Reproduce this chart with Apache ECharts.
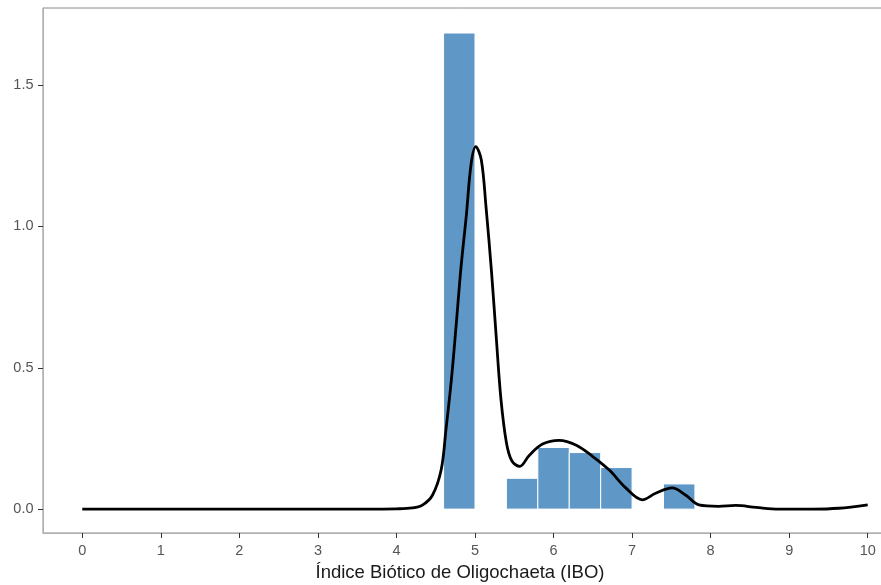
<!DOCTYPE html>
<html>
<head>
<meta charset="utf-8">
<script src="https://cdn.jsdelivr.net/npm/echarts@6/dist/echarts.min.js"></script>
<style>
  html, body { margin: 0; padding: 0; background: #fff; }
  #chart { width: 881px; height: 585px; }
</style>
</head>
<body>
<div id="chart"></div>
<script>
// histogram bins (width 0.4) and density heights
const binStart = [4.6, 5.0, 5.4, 5.8, 6.2, 6.6, 7.0, 7.4];
const binEnd   = [5.0, 5.4, 5.8, 6.2, 6.6, 7.0, 7.4, 7.8];
const binDensity = [1.684, 0, 0.109, 0.218, 0.200, 0.147, 0, 0.089];

// kernel density curve
const curveX = [0, 1, 2, 3, 3.6, 4.0, 4.2, 4.33, 4.46, 4.57, 4.63, 4.70, 4.76, 4.82, 4.89, 4.95, 5.01,
  5.08, 5.14, 5.21, 5.27, 5.33, 5.40, 5.47, 5.57, 5.69, 5.86, 6.07, 6.29, 6.50, 6.71,
  6.92, 7.13, 7.30, 7.51, 7.68, 7.85, 8.1, 8.32, 8.58, 8.87, 9.3, 9.63, 10.0];
const curveY = [0, 0, 0, 0, 0, 0.001, 0.004, 0.014, 0.05, 0.14, 0.28, 0.46, 0.65, 0.85, 1.04, 1.22, 1.282,
  1.236, 1.07, 0.84, 0.61, 0.39, 0.235, 0.17, 0.151, 0.19, 0.23, 0.243, 0.226, 0.186, 0.138,
  0.075, 0.033, 0.056, 0.075, 0.05, 0.015, 0.01, 0.013, 0.006, 0.0, 0.0, 0.003, 0.015];

const xTicks = [0, 1, 2, 3, 4, 5, 6, 7, 8, 9, 10];
const yTicks = [0, 0.5, 1.0, 1.5];

let chart = echarts.init(document.getElementById('chart'));

const bars = binStart.map(function (s, i) { return [s, binEnd[i], binDensity[i]]; });
const curve = curveX.map(function (x, i) { return [x, curveY[i]]; });

let option = {
    animation: false,
    grid: {
        left: 43, top: 8, width: 864, height: 525,
        outerBoundsMode: 'none', containLabel: false,
        show: true, borderColor: '#8a8a8a', borderWidth: 1, backgroundColor: '#fff'
    },
    xAxis: {
        type: 'value',
        min: -0.5, max: 10.5,
        splitLine: { show: false },
        axisLine: { show: true, onZero: false, lineStyle: { color: '#b0b0b0' } },
        axisTick: { show: true, length: 5, customValues: xTicks, lineStyle: { color: '#333' } },
        axisLabel: { customValues: xTicks, color: '#555', fontSize: 14.5, margin: 10,
            fontFamily: 'Liberation Sans' }
    },
    yAxis: {
        type: 'value',
        min: -0.0845, max: 1.7725,
        splitLine: { show: false },
        axisLine: { show: true, onZero: false, lineStyle: { color: '#b0b0b0' } },
        axisTick: { show: true, length: 5, customValues: yTicks, lineStyle: { color: '#333' } },
        axisLabel: { customValues: yTicks, color: '#555', fontSize: 14.5, margin: 9.5,
            fontFamily: 'Liberation Sans',
            formatter: function (v) { return v.toFixed(1); } }
    },
    graphic: [{
        type: 'text', x: 460, y: 572.5,
        style: { text: 'Índice Biótico de Oligochaeta (IBO)', fill: '#1a1a1a',
            font: '18.5px "Liberation Sans"', align: 'center', verticalAlign: 'middle' }
    }],
    series: [
        {
            type: 'custom',
            data: bars,
            encode: { x: [0, 1], y: 2 },
            renderItem: function (params, api) {
                if (api.value(2) <= 0) return;
                let p0 = api.coord([api.value(0), 0]);
                let p1 = api.coord([api.value(1), api.value(2)]);
                return {
                    type: 'rect',
                    shape: { x: p0[0], y: p1[1], width: p1[0] - p0[0], height: p0[1] - p1[1] },
                    style: { fill: '#5f97c6', stroke: '#ffffff', lineWidth: 1 }
                };
            }
        },
        {
            type: 'line',
            data: curve,
            smooth: 0.35,
            showSymbol: false,
            lineStyle: { color: '#000', width: 2.8 }
        }
    ]
};

chart.setOption(option);
</script>
</body>
</html>
